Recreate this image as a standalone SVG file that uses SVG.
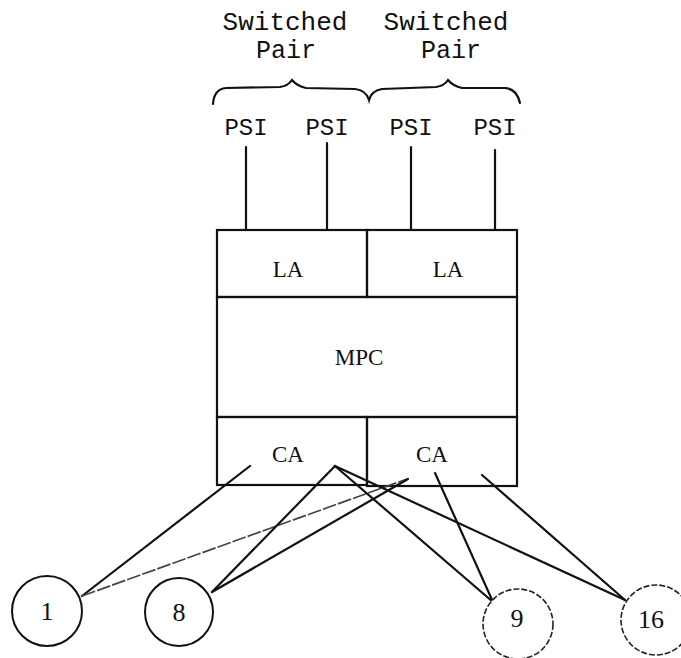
<svg xmlns="http://www.w3.org/2000/svg" width="681" height="658" viewBox="0 0 681 658">
<style>
.mono{font-family:"Liberation Mono","DejaVu Sans Mono",monospace;fill:#111;text-anchor:middle}
.serif{font-family:"Liberation Serif","DejaVu Serif",serif;fill:#111;text-anchor:middle}
.box{fill:none;stroke:#111;stroke-width:2.2}
.wire{stroke:#111;stroke-width:2.2;fill:none;stroke-linecap:round}
.faint{stroke:#444;stroke-width:1.7;fill:none;stroke-dasharray:14 2}
.node{fill:#fff;stroke:#111;stroke-width:2}
.dnode{fill:#fff;stroke:#222;stroke-width:1.6;stroke-dasharray:6 2}
</style>
<rect width="681" height="658" fill="#fff"/>
<g id="labels">
<text class="mono" x="285" y="30" font-size="26">Switched</text>
<text class="mono" x="446" y="30" font-size="26">Switched</text>
<text class="mono" x="286" y="58" font-size="25">Pair</text>
<text class="mono" x="451" y="58" font-size="25" fill="#333">Pair</text>
<path class="wire" stroke-width="1.8" d="M213,104 Q214,89 226,88 L280,87 Q288,86 292,80 Q297,86 306,88 L355,89 Q366,90 369,100 Q371,91 382,89 L436,87 Q444,86 448,80 Q453,86 462,88 L505,88 Q517,89 520,103"/>
</g>
<g id="psi1"><text class="mono" x="246" y="135" font-size="24">PSI</text></g>
<g id="psi2"><text class="mono" x="327" y="135" font-size="24">PSI</text></g>
<g id="psi3"><text class="mono" x="411" y="135" font-size="24">PSI</text></g>
<g id="psi4"><text class="mono" x="495" y="135" font-size="24">PSI</text></g>
<g id="la1"><rect class="box" x="217" y="230" width="150" height="67"/><text class="serif" x="288" y="277" font-size="23">LA</text></g>
<g id="la2"><rect class="box" x="367" y="230" width="150" height="67"/><text class="serif" x="448" y="277" font-size="23">LA</text></g>
<g id="mpc"><rect class="box" x="217" y="297" width="300" height="120"/><text class="serif" x="359" y="365" font-size="23">MPC</text></g>
<g id="ca1"><rect class="box" x="217" y="417" width="150" height="68"/><text class="serif" x="288" y="462" font-size="23">CA</text></g>
<g id="ca2"><rect class="box" x="367" y="417" width="150" height="69"/><text class="serif" x="432" y="462" font-size="23">CA</text></g>
<g id="connectors">
<line class="wire" x1="246" y1="147" x2="246" y2="230"/>
<line class="wire" x1="327" y1="143" x2="327" y2="230"/>
<line class="wire" x1="411" y1="147" x2="411" y2="230"/>
<line class="wire" x1="495" y1="150" x2="495" y2="230"/>
<line class="wire" stroke-width="2.6" x1="82" y1="596" x2="250" y2="466"/>
<line class="faint" x1="82" y1="596" x2="407" y2="479"/>
<line class="wire" x1="212" y1="592" x2="335" y2="466"/>
<line class="wire" x1="212" y1="592" x2="408" y2="479"/>
<line class="wire" x1="493" y1="602" x2="335" y2="466"/>
<line class="wire" x1="493" y1="602" x2="435" y2="473"/>
<line class="wire" x1="625" y1="600" x2="335" y2="466"/>
<line class="wire" x1="625" y1="600" x2="482" y2="475"/>
</g>
<g id="n1"><circle class="node" cx="47" cy="611" r="35"/><text class="serif" x="47" y="620" font-size="26">1</text></g>
<g id="n8"><circle class="node" cx="179" cy="612" r="34"/><text class="serif" x="179" y="621" font-size="26">8</text></g>
<g id="n9"><circle class="dnode" cx="518" cy="624" r="35"/><text class="serif" x="517" y="627" font-size="26">9</text></g>
<g id="n16"><circle class="dnode" cx="656" cy="620" r="35"/><text class="serif" x="651" y="628" font-size="26">16</text></g>
</svg>
